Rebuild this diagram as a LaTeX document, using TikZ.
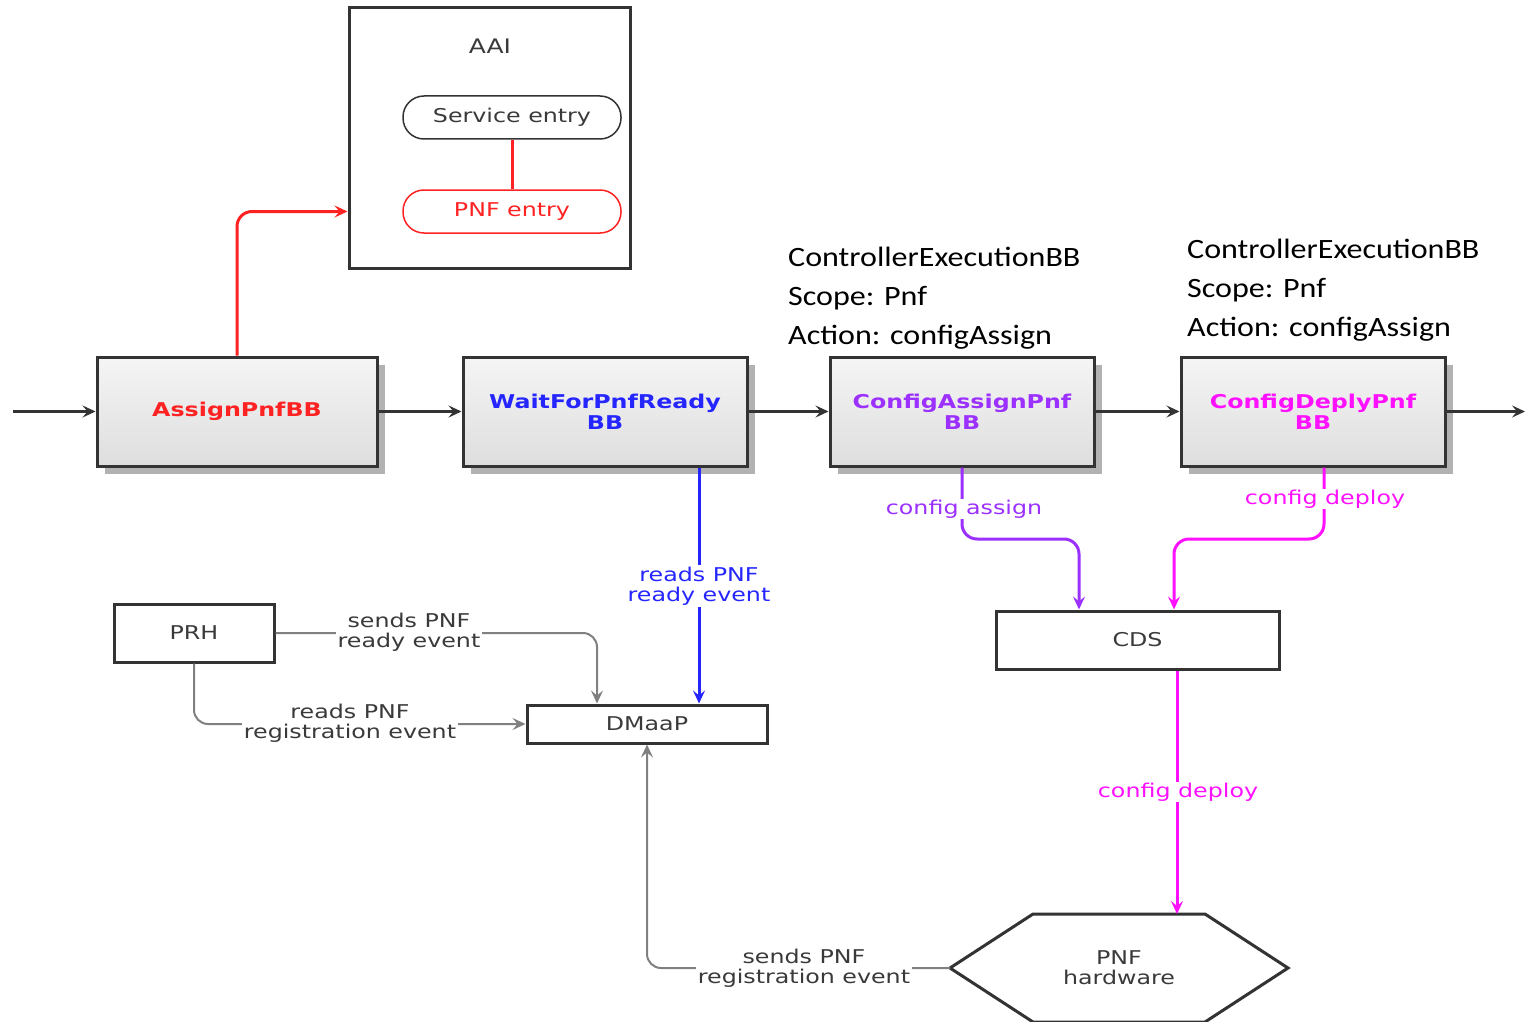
\documentclass[tikz,border=0pt]{standalone}
\usepackage{fontspec}
\setmainfont[FakeStretch=1.25]{DejaVu Sans}
\newfontfamily\calib[FakeStretch=1.145]{Carlito}
\usetikzlibrary{arrows.meta,shadows}
\definecolor{cRed}{HTML}{FF2222}
\definecolor{cBlue}{HTML}{2525FF}
\definecolor{cPurple}{HTML}{9B30FF}
\definecolor{cMag}{HTML}{FF10FF}
\definecolor{cDark}{HTML}{333333}
\definecolor{cGray}{HTML}{808080}
\definecolor{cText}{HTML}{3A3A3A}
\tikzset{
  tip/.style={-{Stealth[length=13pt,width=12pt,inset=5pt]}},
  bbbox/.style={draw=cDark, line width=3pt, top color=black!4, bottom color=black!13,
    minimum height=109pt, inner sep=0pt, align=center,
    font=\fontsize{19}{21}\selectfont\bfseries,
    drop shadow={shadow xshift=8pt, shadow yshift=-8pt, fill=black!30, opacity=1}},
  plainbox/.style={draw=cDark, line width=3pt, fill=white, inner sep=0pt,
    font=\fontsize{19}{20}\selectfont, text=cText},
  pill/.style={draw, line width=1.5pt, rounded corners=21pt, minimum width=218pt,
    minimum height=43pt, inner sep=0pt, font=\fontsize{19}{21}\selectfont},
  lbl/.style={fill=white, inner sep=2pt, align=center, font=\fontsize{19}{20}\selectfont},
  flow/.style={tip, draw=cDark, line width=3pt},
  grayline/.style={tip, draw=cGray, line width=2pt, rounded corners=14pt},
  colline/.style={tip, line width=3pt, rounded corners=15pt},
  ctrl/.style={anchor=north west, inner sep=0pt, align=left, text=black,
    font=\calib\fontsize{28}{39}\selectfont},
}
\begin{document}
\begin{tikzpicture}[x=1pt,y=-1pt]
\useasboundingbox (0,0) rectangle (1526,1022);

% AAI
\node[draw=cDark, line width=3pt, minimum width=281pt, minimum height=260pt, inner sep=0pt] (aai) at (489.5,138) {};
\node[font=\fontsize{20}{20}\selectfont, text=cText] (aailbl) at (490,46) {AAI};
\node[pill, draw=cDark, text=cText] (serv) at (512,117.5) {Service entry};
\node[pill, draw=cRed, text=cRed] (pnfe) at (512,211.5) {PNF entry};
\draw[cRed, line width=3pt] (serv) -- (pnfe);

% main BB boxes
\node[bbbox, minimum width=280pt, text=cRed] (assign) at (237,411.5) {AssignPnfBB};
\node[bbbox, minimum width=284pt, text=cBlue] (wait) at (605,411.5) {WaitForPnfReady\\BB};
\node[bbbox, minimum width=264pt, text=cPurple] (cfa) at (962,411.5) {ConfigAssignPnf\\BB};
\node[bbbox, minimum width=264pt, text=cMag] (cfd) at (1313,411.5) {ConfigDeplyPnf\\BB};

\coordinate (in) at (13,411.5);
\coordinate (out) at (1525,411.5);
\draw[flow] (in) -- (assign);
\draw[flow] (assign) -- (wait);
\draw[flow] (wait) -- (cfa);
\draw[flow] (cfa) -- (cfd);
\draw[flow] (cfd) -- (out);

% red to AAI
\draw[colline, cRed] (assign.north) |- (aai.west |- pnfe.west);

% controller texts
\node[ctrl] (ctl1) at (788,247) {ControllerExecutionBB\\Scope: Pnf\\Action: configAssign};
\node[ctrl] (ctl2) at (1187,239) {ControllerExecutionBB\\Scope: Pnf\\Action: configAssign};

% lower boxes
\node[plainbox, minimum width=160pt, minimum height=58pt] (prh) at (194,633) {PRH};
\node[plainbox, minimum width=240pt, minimum height=38pt] (dmaap) at (647,724) {DMaaP};
\node[plainbox, minimum width=283pt, minimum height=58pt] (cds) at (1137.5,640) {CDS};

% hexagon
\coordinate (hL) at (950,968);
\coordinate (hTL) at (1033,914);
\coordinate (hTR) at (1205,914);
\coordinate (hR) at (1288,968);
\coordinate (hBR) at (1205,1022);
\coordinate (hBL) at (1033,1022);
\draw[cDark, line width=3pt, line join=miter] (hL) -- (hTL) -- (hTR) -- (hR) -- (hBR) -- (hBL) -- cycle;
\node[font=\fontsize{19}{20}\selectfont, text=cText, align=center] (pnf) at (1119,968) {PNF\\hardware};

% blue
\coordinate (bx) at (699,0);
\draw[colline, cBlue] (wait.south -| bx) -- (dmaap.north -| bx);
\node[lbl, text=cBlue] (lb1) at (699,586) {reads PNF\\ready event};

% PRH lines
\coordinate (px) at (597,0);
\draw[grayline] (prh.east) -| (dmaap.north -| px);
\node[lbl, text=cText] (lb2) at (409,632) {sends PNF\\ready event};
\draw[grayline] (prh.south) |- (dmaap.west);
\node[lbl, text=cText] (lb3) at (350,723) {reads PNF\\registration event};

% PNF -> DMaaP
\draw[grayline] (hL) -| (dmaap.south);
\node[lbl, text=cText] (lb4) at (804,968) {sends PNF\\registration event};

% config assign / deploy
\coordinate (ca1) at (1079,539);
\draw[colline, cPurple] (cfa.south) |- (ca1) -- (cds.north -| ca1);
\node[lbl, text=cPurple, inner sep=1pt] (lb5) at (964,509) {config assign};
\coordinate (cd0) at (1324,0);
\coordinate (cd1) at (1174,539);
\draw[colline, cMag] (cfd.south -| cd0) |- (cd1) -- (cds.north -| cd1);
\node[lbl, text=cMag, inner sep=1pt] (lb6) at (1325,499) {config deploy};
\coordinate (cx) at (1177,0);
\draw[colline, cMag] (cds.south -| cx) -- (hTL -| cx);
\node[lbl, text=cMag, inner sep=1pt] (lb7) at (1178,792) {config deploy};
\end{tikzpicture}
\end{document}
